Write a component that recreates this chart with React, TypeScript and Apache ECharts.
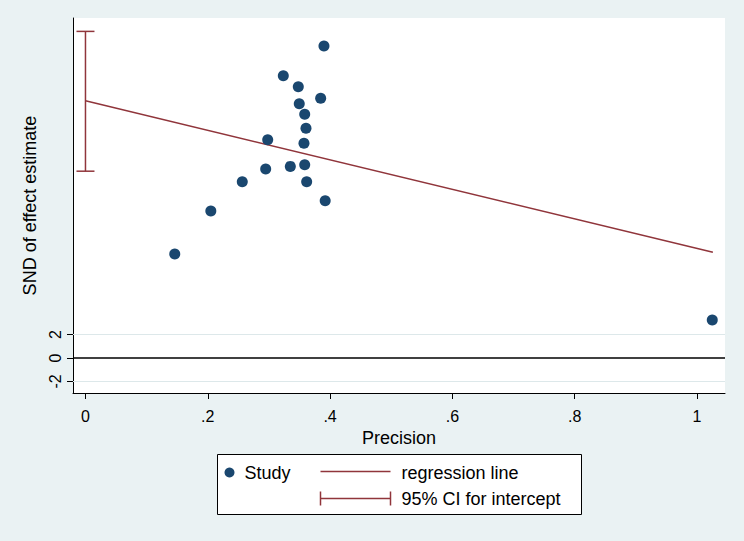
import React, { useEffect, useRef } from "react";
import * as echarts from "echarts";

const precision = [0.390, 0.3235, 0.348, 0.3846, 0.3496, 0.3585, 0.3606, 0.298, 0.3573, 0.3585, 0.335, 0.2947, 0.2564, 0.3617, 0.392, 0.205, 0.146, 1.025];
const snd = [26.55, 24.03, 23.09, 22.10, 21.64, 20.74, 19.55, 18.58, 18.27, 16.45, 16.31, 16.09, 15.0, 15.0, 13.39, 12.51, 8.85, 3.23];
const regressionX = [0, 1.026];
const regressionY = [21.9, 9.0];
const ciIntercept = [15.9, 27.8];
const xTicks = [0, 0.2, 0.4, 0.6, 0.8, 1];
const yTicks = [-2, 0, 2];

const BG = "#eaf2f3";
const NAVY = "#1a476f";
const MAROON = "#90353b";
const FONT = "Liberation Sans, Arial, sans-serif";

function fmt(v: number): string {
  if (v === 0) return "0";
  if (v === 1) return "1";
  const s = String(Math.round(v * 10) / 10);
  return s.replace(/^0\./, ".").replace(/^-0\./, "-.");
}

export default function App() {
  const ref = useRef<HTMLDivElement>(null);
  useEffect(() => {
    if (!ref.current) return;
    const chart = echarts.init(ref.current, null, { renderer: "svg" });
    const option: any = {
      animation: false,
      backgroundColor: BG,
      grid: { left: 73, top: 18, right: 19, bottom: 148, show: true, backgroundColor: "#ffffff", borderWidth: 0 },
      xAxis: {
        type: "value",
        min: -0.0204,
        max: 1.0458,
        name: "Precision",
        nameLocation: "middle",
        nameGap: 29,
        nameTextStyle: { fontSize: 18, color: "#000", fontFamily: FONT },
        axisLine: { show: true, onZero: false, lineStyle: { color: "#000", width: 1 } },
        axisTick: { show: true, length: 6, customValues: xTicks, lineStyle: { color: "#000" } },
        axisLabel: { customValues: xTicks, formatter: (v: number) => fmt(v), fontSize: 16, color: "#000", fontFamily: FONT, margin: 15 },
        splitLine: { show: false },
      },
      yAxis: {
        type: "value",
        min: -2.98,
        max: 28.94,
        name: "SND of effect estimate",
        nameLocation: "middle",
        nameGap: 33,
        nameTextStyle: { fontSize: 18, color: "#000", fontFamily: FONT },
        axisLine: { show: true, onZero: false, lineStyle: { color: "#000", width: 1 } },
        axisTick: { show: true, length: 6, customValues: yTicks, lineStyle: { color: "#000" } },
        axisLabel: { customValues: yTicks, rotate: 90, formatter: (v: number) => String(v), fontSize: 16, color: "#000", fontFamily: FONT, margin: 10 },
        splitLine: { show: false },
      },
      series: [
        {
          type: "line",
          data: [],
          markLine: {
            silent: true,
            symbol: "none",
            label: { show: false },
            data: [
              { yAxis: 2, lineStyle: { color: "#dde8ea", width: 1, type: "solid" } },
              { yAxis: -2, lineStyle: { color: "#dde8ea", width: 1, type: "solid" } },
              { yAxis: 0, lineStyle: { color: "#000", width: 1.5, type: "solid" } },
            ],
          },
        },
        {
          type: "line",
          name: "regression line",
          data: regressionX.map((x, i) => [x, regressionY[i]]),
          symbol: "none",
          lineStyle: { color: MAROON, width: 1.5 },
          z: 3,
        },
        {
          type: "custom",
          name: "95% CI for intercept",
          data: [[0, ciIntercept[0], ciIntercept[1]]],
          renderItem: (params: any, api: any) => {
            const lo = api.coord([api.value(0), api.value(1)]);
            const hi = api.coord([api.value(0), api.value(2)]);
            const w = 9;
            const st = { stroke: MAROON, lineWidth: 1.5 };
            return {
              type: "group",
              children: [
                { type: "line", shape: { x1: lo[0], y1: lo[1], x2: hi[0], y2: hi[1] }, style: st },
                { type: "line", shape: { x1: lo[0] - w, y1: lo[1], x2: lo[0] + w, y2: lo[1] }, style: st },
                { type: "line", shape: { x1: hi[0] - w, y1: hi[1], x2: hi[0] + w, y2: hi[1] }, style: st },
              ],
            };
          },
          z: 3,
        },
        {
          type: "scatter",
          name: "Study",
          data: precision.map((x, i) => [x, snd[i]]),
          symbol: "circle",
          symbolSize: 11,
          itemStyle: { color: NAVY, opacity: 1 },
          z: 4,
        },
      ],
      graphic: [
        {
          type: "group",
          left: 217,
          top: 454,
          children: [
            { type: "rect", shape: { x: 0, y: 0, width: 364, height: 60 }, style: { fill: "#fff", stroke: "#000", lineWidth: 1 } },
            { type: "circle", shape: { cx: 12, cy: 18, r: 5 }, style: { fill: NAVY } },
            { type: "text", x: 27, y: 18, style: { text: "Study", fontSize: 18, fill: "#000", fontFamily: FONT, verticalAlign: "middle" } },
            { type: "line", shape: { x1: 103, y1: 17, x2: 173, y2: 17 }, style: { stroke: MAROON, lineWidth: 1.5 } },
            { type: "text", x: 184, y: 18, style: { text: "regression line", fontSize: 18, fill: "#000", fontFamily: FONT, verticalAlign: "middle" } },
            { type: "line", shape: { x1: 103, y1: 44, x2: 173, y2: 44 }, style: { stroke: MAROON, lineWidth: 1.5 } },
            { type: "line", shape: { x1: 103, y1: 37, x2: 103, y2: 51 }, style: { stroke: MAROON, lineWidth: 1.5 } },
            { type: "line", shape: { x1: 173, y1: 37, x2: 173, y2: 51 }, style: { stroke: MAROON, lineWidth: 1.5 } },
            { type: "text", x: 184, y: 44, style: { text: "95% CI for intercept", fontSize: 18, fill: "#000", fontFamily: FONT, verticalAlign: "middle" } },
          ],
        },
      ],
    };
    chart.setOption(option);
    return () => chart.dispose();
  }, []);
  return <div ref={ref} style={{ width: 744, height: 541, position: "fixed", left: 0, top: 0 }} />;
}
